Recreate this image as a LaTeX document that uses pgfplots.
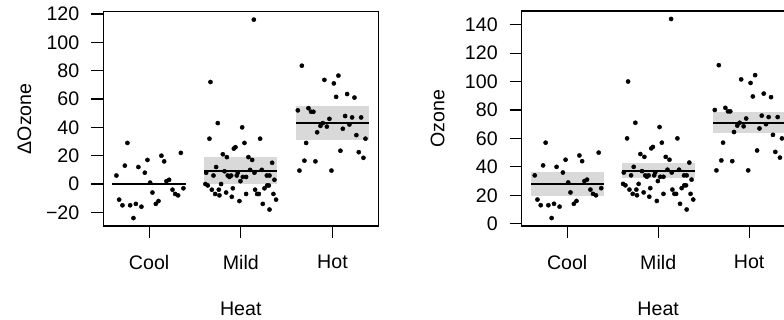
\documentclass[border=0pt]{standalone}
\usepackage{pgfplots}
\usepackage{pgfplotstable}
\pgfplotsset{compat=1.18}
\usepackage{fontspec}
\setmainfont{Liberation Sans}
\definecolor{band}{HTML}{D9D9D9}

\pgfplotstableread{
x d oz
0.763 29 57
1.346 22 50
1.134 20 48
1.164 16 44
0.982 17 45
0.883 12 40
0.735 13 41
0.953 8 36
0.643 6 34
1.011 1 29
1.189 2 30
1.218 3 31
1.374 -3 25
1.255 -4 24
1.036 -6 22
1.284 -7 21
1.316 -8 20
0.673 -11 17
1.102 -12 16
1.073 -14 14
0.709 -15 13
0.793 -15 13
0.855 -14 14
0.916 -16 12
0.829 -24 4
}\cool

\pgfplotstableread{
x d oz
2.142 116 144
1.669 72 100
1.749 43 71
2.015 40 68
1.658 32 60
2.211 32 60
2.040 29 57
1.942 26 54
1.924 25 53
1.804 21 49
1.848 19 47
2.083 19 47
2.124 17 45
2.342 15 43
1.731 12 40
1.622 8 36
1.702 6 34
1.822 9 37
1.858 6 34
1.876 5 33
1.895 6 34
1.967 8 36
1.956 6 34
2.022 5 33
2.058 5 33
2.102 10 38
2.149 8 36
2.229 10 38
2.284 6 34
2.313 6 34
2.367 3 31
1.996 2 30
1.614 0 28
1.640 -1 27
1.684 -4 24
1.785 0 28
1.720 -7 21
1.767 -8 20
1.760 -4 24
1.840 -6 22
1.902 -9 19
1.913 -3 25
1.985 -12 16
2.058 -7 21
2.156 -4 24
2.178 -7 21
2.197 -7 21
2.258 -3 25
2.287 -1 27
2.306 -1 27
2.240 -14 14
2.313 -18 10
2.356 -7 21
2.385 -11 17
}\mild

\pgfplotstableread{
x d oz
2.666 83.5 111.5
3.065 76.5 104.5
2.912 73.5 101.5
3.015 71 99
3.040 61.5 89.5
3.160 63.5 91.5
3.240 61 89
2.622 52 80
2.738 53.5 81.5
2.767 51 79
2.792 51 79
3.138 48 76
3.214 47 75
3.313 47 75
2.967 46 74
3.185 42 70
2.895 43 71
2.869 41 69
2.939 40.5 68.5
3.113 39 67
2.833 36.5 64.5
3.261 34.5 62.5
3.360 32 60
2.713 29 57
3.087 23.5 51.5
3.287 22.5 50.5
3.338 18.5 46.5
2.694 16.5 44.5
2.814 16 44
2.640 9.5 37.5
2.989 9.5 37.5
}\hot

\pgfplotsset{
  common/.style={
    scale only axis,
    xmin=0.5, xmax=3.5,
    xtick={1,2,3}, xticklabels={Cool,Mild,Hot},
    tick pos=left, tick align=outside,
    major tick length=6pt,
    tick style={black, line width=0.55pt},
    axis line style={black, line width=0.6pt},
    yticklabel style={anchor=east, inner sep=0pt, xshift=-5.8pt},
    xticklabel style={anchor=north, inner sep=0pt, yshift=-8.5pt},
    xlabel={Heat},
    xlabel style={at={(axis description cs:0.5,0)}, anchor=north, inner sep=0pt, yshift=-37.85pt},
    ylabel style={anchor=south, inner sep=0pt},
  },
  pts/.style={only marks, mark=*, mark size=1.05pt, black, mark options={fill=black, draw=black, line width=0.2pt}},
  bandst/.style={fill=band, draw=none, forget plot},
  meanl/.style={black, line width=1pt, no marks},
}

\begin{document}
\fontsize{9.8}{11.8}\selectfont
\begin{tikzpicture}
\begin{axis}[common,
  at={(51.65pt,47pt)}, anchor=south west,
  width=137.5pt, height=107.15pt,
  ymin=-29.6, ymax=121.6,
  ytick={-20,0,20,40,60,80,100,120},
  yticklabels={−20,0,20,40,60,80,100,120},
  ylabel={ΔOzone},
  ylabel style={at={(axis description cs:-0.2604,0.5)}},
]
\addplot[bandst] coordinates {(1.6,-0.2) (2.4,-0.2) (2.4,19.1) (1.6,19.1)} -- cycle;
\addplot[bandst] coordinates {(2.6,31.1) (3.4,31.1) (3.4,55.1) (2.6,55.1)} -- cycle;
\addplot[meanl] coordinates {(0.6,0) (1.4,0)};
\addplot[meanl] coordinates {(1.6,9.2) (2.4,9.2)};
\addplot[meanl] coordinates {(2.6,43.1) (3.4,43.1)};
\addplot[pts] table[x=x, y=d] {\cool};
\addplot[pts] table[x=x, y=d] {\mild};
\addplot[pts] table[x=x, y=d] {\hot};
\end{axis}
\begin{axis}[common,
  at={(260.85pt,47pt)}, anchor=south west,
  width=136.5pt, height=107.5pt,
  ymin=-1.6, ymax=149.6,
  ytick={0,20,40,60,80,100,120,140},
  yticklabels={0,20,40,60,80,100,120,140},
  ylabel={Ozone},
  ylabel style={at={(axis description cs:-0.281,0.5)}},
]
\addplot[bandst] coordinates {(0.6,19.2) (1.4,19.2) (1.4,36.4) (0.6,36.4)} -- cycle;
\addplot[bandst] coordinates {(1.6,31.9) (2.4,31.9) (2.4,42.9) (1.6,42.9)} -- cycle;
\addplot[bandst] coordinates {(2.6,63.5) (3.4,63.5) (3.4,78.6) (2.6,78.6)} -- cycle;
\addplot[meanl] coordinates {(0.6,28) (1.4,28)};
\addplot[meanl] coordinates {(1.6,37.2) (2.4,37.2)};
\addplot[meanl] coordinates {(2.6,71.1) (3.4,71.1)};
\addplot[pts] table[x=x, y=oz] {\cool};
\addplot[pts] table[x=x, y=oz] {\mild};
\addplot[pts] table[x=x, y=oz] {\hot};
\end{axis}
\pgfresetboundingbox
\useasboundingbox (0,0) rectangle (392pt,160pt);
\end{tikzpicture}
\end{document}
